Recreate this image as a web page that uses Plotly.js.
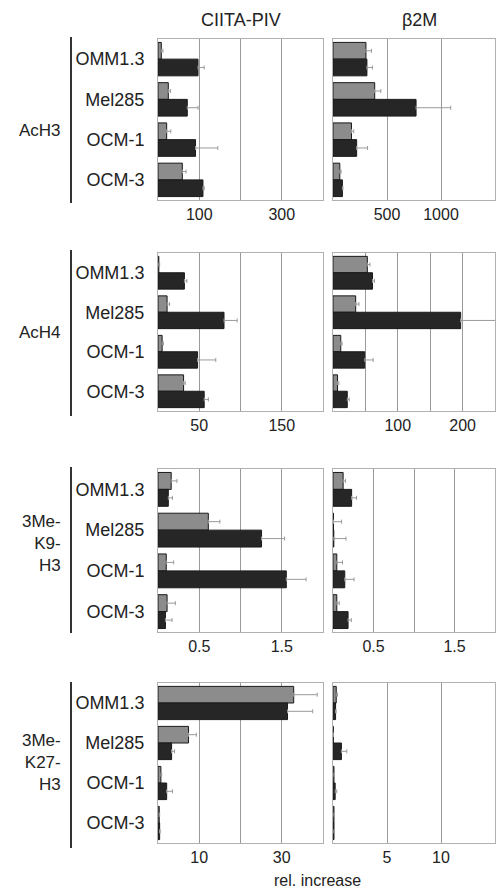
<!DOCTYPE html>
<html>
<head>
<meta charset="utf-8">
<script src="https://cdn.plot.ly/plotly-3.0.1.min.js"></script>
<style>html,body{margin:0;padding:0;background:#fff;}#chart{width:497px;height:890px;}</style>
</head>
<body>
<div id="chart"></div>
<script>
// ---- data ----
const cells = ['OMM1.3', 'Mel285', 'OCM-1', 'OCM-3'];
const rowLabels = ['AcH3', 'AcH4', '3Me-<br>K9-<br>H3', '3Me-<br>K27-<br>H3'];
const colTitles = ['CIITA-PIV', 'β2M'];

// AcH3
const ach3CiitaGray = [8, 25, 21, 59];
const ach3CiitaGrayErr = [4, 5, 10, 9];
const ach3CiitaBlack = [97, 71, 91, 109];
const ach3CiitaBlackErr = [15, 26, 54, 3];
const ach3B2mGray = [305, 386, 171, 63];
const ach3B2mGrayErr = [51, 57, 21, 12];
const ach3B2mBlack = [314, 769, 219, 87];
const ach3B2mBlackErr = [51, 321, 101, 5];

// AcH4
const ach4CiitaGray = [1, 11, 5, 31];
const ach4CiitaGrayErr = [1, 3, 1.5, 2];
const ach4CiitaBlack = [32, 80, 48, 56];
const ach4CiitaBlackErr = [3, 16, 22, 5];
const ach4B2mGray = [53, 35, 12, 7];
const ach4B2mGrayErr = [4, 5, 2, 2];
const ach4B2mBlack = [61, 197, 49, 22];
const ach4B2mBlackErr = [3, 60, 13, 3];

// 3Me-K9-H3
const k9CiitaGray = [0.16, 0.61, 0.10, 0.11];
const k9CiitaGrayErr = [0.07, 0.14, 0.09, 0.10];
const k9CiitaBlack = [0.125, 1.255, 1.555, 0.09];
const k9CiitaBlackErr = [0.05, 0.28, 0.24, 0.08];
const k9B2mGray = [0.125, 0.006, 0.047, 0.047];
const k9B2mGrayErr = [0.03, 0.10, 0.07, 0.03];
const k9B2mBlack = [0.23, 0.01, 0.145, 0.186];
const k9B2mBlackErr = [0.06, 0.15, 0.115, 0.04];

// 3Me-K27-H3
const k27CiitaGray = [32.9, 7.4, 0.7, 0.3];
const k27CiitaGrayErr = [5.7, 1.9, 0.2, 0.1];
const k27CiitaBlack = [31.4, 3.3, 2.1, 0.4];
const k27CiitaBlackErr = [6.1, 0.7, 1.4, 0.1];
const k27B2mGray = [0.3, 0.03, 0.09, 0.09];
const k27B2mGrayErr = [0.12, 0.02, 0.03, 0.03];
const k27B2mBlack = [0.24, 0.78, 0.2, 0.09];
const k27B2mBlackErr = [0.05, 0.5, 0.15, 0.03];

// axis ranges / ticks
const ciitaRanges = [[0, 400], [0, 200], [0, 2], [0, 40]];
const ciitaTickVals = [[100, 200, 300], [50, 100, 150], [0.5, 1, 1.5], [10, 20, 30]];
const ciitaTickText = [['100', '', '300'], ['50', '', '150'], ['0.5', '', '1.5'], ['10', '', '30']];
const b2mRanges = [[0, 1500], [0, 250], [0, 2], [0, 15]];
const b2mTickVals = [[500, 1000], [50, 100, 150, 200], [0.5, 1, 1.5], [5, 10]];
const b2mTickText = [['500', '1000'], ['', '100', '', '200'], ['0.5', '', '1.5'], ['5', '10']];

// ---- layout geometry (pixels) ----
const W = 497, H = 890;
const colX = [[158, 323], [333, 495]];
const rowY = [[39, 200], [253, 411], [469, 632], [683, 843]];
const lineY = [[37, 203], [250, 416], [467, 633], [682, 848]];
const rowLabelY = [130, 332, 543, 762];

const panels = [
  [[ach3CiitaGray, ach3CiitaGrayErr, ach3CiitaBlack, ach3CiitaBlackErr], [ach3B2mGray, ach3B2mGrayErr, ach3B2mBlack, ach3B2mBlackErr]],
  [[ach4CiitaGray, ach4CiitaGrayErr, ach4CiitaBlack, ach4CiitaBlackErr], [ach4B2mGray, ach4B2mGrayErr, ach4B2mBlack, ach4B2mBlackErr]],
  [[k9CiitaGray, k9CiitaGrayErr, k9CiitaBlack, k9CiitaBlackErr], [k9B2mGray, k9B2mGrayErr, k9B2mBlack, k9B2mBlackErr]],
  [[k27CiitaGray, k27CiitaGrayErr, k27CiitaBlack, k27CiitaBlackErr], [k27B2mGray, k27B2mGrayErr, k27B2mBlack, k27B2mBlackErr]]
];

const FONT = 'Liberation Sans, Arial, sans-serif';
const px = x => x / W;
const py = y => 1 - y / H;

const traces = [];
const layout = {
  width: W, height: H,
  margin: {l: 0, r: 0, t: 0, b: 0},
  paper_bgcolor: '#fff', plot_bgcolor: '#fff',
  showlegend: false,
  barmode: 'group', bargap: 0.17, bargroupgap: 0,
  font: {family: FONT, color: '#222', size: 16},
  shapes: [], annotations: []
};

let n = 0;
for (let r = 0; r < 4; r++) {
  for (let c = 0; c < 2; c++) {
    n++;
    const xa = 'x' + (n === 1 ? '' : n), ya = 'y' + (n === 1 ? '' : n);
    const xk = 'xaxis' + (n === 1 ? '' : n), yk = 'yaxis' + (n === 1 ? '' : n);
    const d = panels[r][c];
    const colors = ['#8c8c8c', '#262626'];
    for (let s = 0; s < 2; s++) {
      traces.push({
        type: 'bar', orientation: 'h',
        y: cells, x: d[s * 2],
        xaxis: xa, yaxis: ya,
        marker: {color: colors[s], line: {color: '#1a1a1a', width: 1}},
        error_x: {type: 'data', symmetric: false, array: d[s * 2 + 1], arrayminus: d[s * 2 + 1].map(() => 0),
                  color: '#999', thickness: 1, width: 2},
        hoverinfo: 'none'
      });
    }
    layout[xk] = {
      domain: [px(colX[c][0]), px(colX[c][1])],
      anchor: ya,
      range: c === 0 ? ciitaRanges[r] : b2mRanges[r],
      tickmode: 'array',
      tickvals: c === 0 ? ciitaTickVals[r] : b2mTickVals[r],
      ticktext: c === 0 ? ciitaTickText[r] : b2mTickText[r],
      showgrid: true, gridcolor: '#9a9a9a', gridwidth: 1,
      zeroline: false,
      showline: true, linecolor: '#b0b0b0', linewidth: 1, mirror: true,
      ticks: '', tickfont: {size: 16, family: FONT, color: '#222'},
      fixedrange: true
    };
    layout[yk] = {
      domain: [py(rowY[r][1]), py(rowY[r][0])],
      anchor: xa,
      type: 'category',
      categoryorder: 'array', categoryarray: cells,
      autorange: 'reversed',
      showgrid: false, zeroline: false,
      showline: true, linecolor: '#b0b0b0', linewidth: 1, mirror: true,
      showticklabels: c === 0,
      ticks: 'outside', ticklen: 9, tickcolor: 'rgba(0,0,0,0)',
      tickfont: {size: 18, family: FONT, color: '#222'},
      fixedrange: true
    };
  }
  // left bracket line
  layout.shapes.push({type: 'line', xref: 'paper', yref: 'paper',
    x0: px(71), x1: px(71), y0: py(lineY[r][0]), y1: py(lineY[r][1]),
    line: {color: '#333', width: 2}});
  layout.annotations.push({xref: 'paper', yref: 'paper', x: px(63), y: py(rowLabelY[r]),
    xanchor: 'right', yanchor: 'middle', align: 'right', showarrow: false,
    text: rowLabels[r], font: {size: 17, family: FONT, color: '#222'}});
}

layout.annotations.push({xref: 'paper', yref: 'paper', x: px(241), y: py(20), xanchor: 'center', yanchor: 'middle',
  showarrow: false, text: colTitles[0], font: {size: 18, family: FONT, color: '#222'}});
layout.annotations.push({xref: 'paper', yref: 'paper', x: px(419), y: py(20), xanchor: 'center', yanchor: 'middle',
  showarrow: false, text: colTitles[1], font: {size: 18, family: FONT, color: '#222'}});
layout.annotations.push({xref: 'paper', yref: 'paper', x: px(317), y: py(880), xanchor: 'center', yanchor: 'middle',
  showarrow: false, text: 'rel. increase', font: {size: 16, family: FONT, color: '#222'}});

Plotly.newPlot('chart', traces, layout, {staticPlot: true, displayModeBar: false});
</script>
</body>
</html>
